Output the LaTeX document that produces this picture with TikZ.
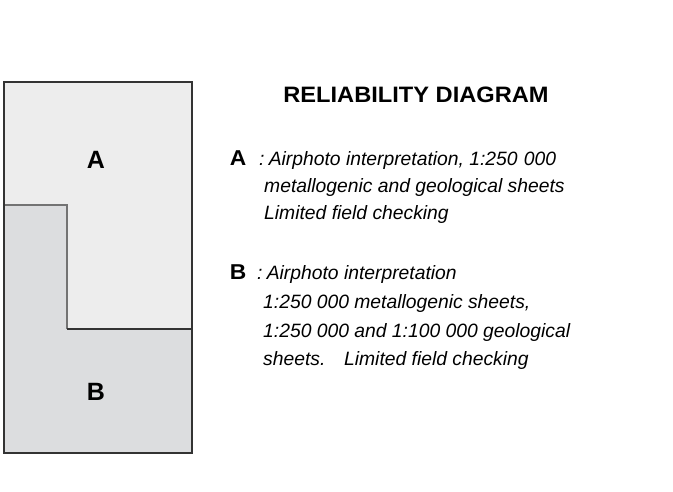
\documentclass[tikz,border=0pt]{standalone}
\usepackage{fontspec}
\setmainfont{Liberation Sans}
\newfontfamily\headfont{Liberation Sans}[FakeStretch=1.06]
\usepackage{xcolor}
\usepackage{tikz}
\definecolor{zoneA}{HTML}{EDEDED}
\definecolor{zoneB}{HTML}{DCDDDF}
\definecolor{edge}{HTML}{333333}

\begin{document}
\begin{tikzpicture}[x=1pt,y=-1pt,
  legend/.style={anchor=base west,inner sep=0,font=\fontsize{19.3}{27}\selectfont\itshape},
  key/.style={inner sep=0,font=\fontsize{21.5}{24}\selectfont\headfont\bfseries},
  zone/.style={inner sep=0,font=\fontsize{25}{28}\selectfont\bfseries}]
\useasboundingbox (0,0) rectangle (673,491);

% the two zones
\fill[zoneA] (4,82) rectangle (192,453);
\fill[zoneB] (4,205) -- (67,205) -- (67,329) -- (192,329) -- (192,453) -- (4,453) -- cycle;
\draw[color=black!55!white, line width=1.2] (4,205) -- (67,205) -- (67,329);
\draw[color=edge, line width=1.3] (67,329) -- (192,329);
\draw[color=edge, line width=1.3] (4,82) rectangle (192,453);
\node[zone] (zoneA) at (96,160) {A};
\node[zone] (zoneB) at (96,392) {B};

% title
\node[anchor=base,inner sep=0,font=\fontsize{22.3}{26}\selectfont\headfont\bfseries] (title) at (416,102) {RELIABILITY DIAGRAM};

% legend
\node[key] (keyA) at (238,158) {A};
\node[legend] (lineA1) at (259,165) {:\hspace{0.22em}Airphoto interpretation, 1:250\hspace{0.32em}000};
\node[legend] (lineA2) at (264,192) {metallogenic and geological sheets};
\node[legend] (lineA3) at (264,219) {Limited field checking};

\node[key] (keyB) at (238,272.5) {B};
\node[legend] (lineB1) at (257,279) {:\hspace{0.22em}Airphoto interpretation};
\node[legend] (lineB2) at (263,308) {1:250 000 metallogenic sheets,};
\node[legend] (lineB3) at (263,337) {1:250 000 and 1:100 000 geological};
\node[legend] (lineB4) at (263,365) {sheets.\hspace{0.6em} Limited field checking};
\end{tikzpicture}
\end{document}
